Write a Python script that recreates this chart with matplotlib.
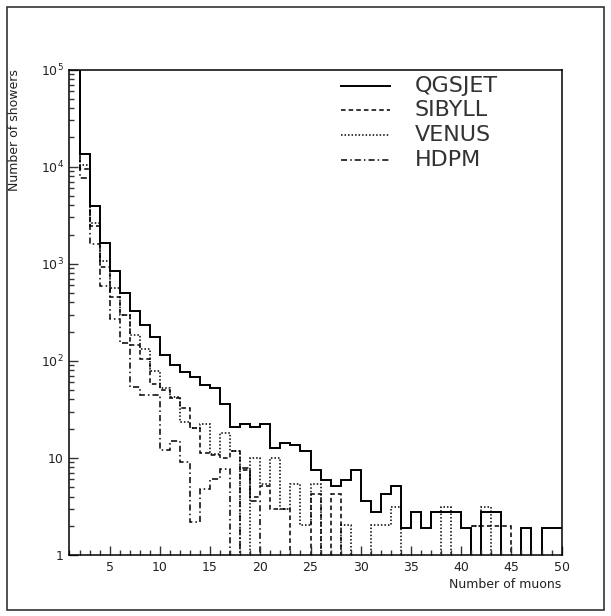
import matplotlib.pyplot as plt
import numpy as np
from matplotlib.patches import Rectangle
from matplotlib.ticker import MultipleLocator, LogLocator, NullFormatter

# bin edges: 1..50, one bin per muon number
edges = np.arange(1, 51)

qgsjet = [1.5e5, 13400, 3900, 1620, 840, 505, 325, 236, 175, 114,
          90, 77, 68, 56, 52, 36, 21, 22.5, 21, 22.5,
          12.7, 14.1, 13.5, 11.8, 7.5, 5.9, 5.2, 5.9, 7.5, 3.6,
          2.75, 4.3, 5.2, 1.9, 2.75, 1.9, 2.75, 2.75, 2.75, 1.9,
          0, 2.75, 2.75, 0, 0, 1.9, 0, 1.9, 1.9]
sibyll = [1.2e5, 9500, 2430, 925, 450, 300, 145, 105, 58, 50,
          41, 33, 20.5, 11.2, 10.8, 10.1, 11.7, 7.5, 4.0, 5.2,
          3.0, 3.0, 0, 0, 4.3, 0, 4.3, 0, 0, 0,
          0, 0, 0, 0, 0, 0, 0, 0, 0, 0,
          2.0, 2.0, 2.0, 2.0, 0, 0, 0, 0, 0]
venus = [1.3e5, 10300, 2650, 1065, 560, 300, 183, 132, 79, 53,
         42, 23.7, 20.5, 22.5, 11, 18.1, 11.7, 0, 9.9, 5.35,
         9.9, 3.0, 5.35, 2.06, 5.35, 0, 0, 2.06, 0, 0,
         2.06, 2.06, 3.1, 0, 0, 0, 0, 3.1, 0, 0,
         2.0, 3.1, 0, 0, 0, 0, 0, 0, 0]
hdpm = [1.1e5, 7700, 1580, 590, 272, 151, 54, 45, 45, 12,
        15, 9.1, 2.2, 4.8, 6.0, 7.7, 0, 7.9, 3.6, 0] + [0] * 29

models = ['QGSJET', 'SIBYLL', 'VENUS', 'HDPM']
styles = ['-', (0, (3, 2)), (0, (1, 1.3)), (0, (4, 2, 1, 2))]
widths = [1.4, 1.1, 1.1, 1.1]

fig = plt.figure(figsize=(6.11, 6.16), dpi=100)
ax = fig.add_axes([0.1137, 0.099, 0.8055, 0.788])

for vals, ls, lw in zip([qgsjet, sibyll, venus, hdpm], styles, widths):
    v = np.asarray(vals, dtype=float)
    v = np.where(v > 0, v, 1e-3)  # empty bins drop to the bottom
    ax.stairs(v, edges, baseline=None, color='black', linestyle=ls, linewidth=lw)

ax.set_yscale('log')
ax.set_xlim(1, 50)
ax.set_ylim(1, 1e5)

ax.set_xticks([5, 10, 15, 20, 25, 30, 35, 40, 45, 50])
ax.xaxis.set_minor_locator(MultipleLocator(1))
ax.set_yticks([1, 10, 1e2, 1e3, 1e4, 1e5],
              ['1', '10', r'$\mathregular{10^{2}}$', r'$\mathregular{10^{3}}$',
               r'$\mathregular{10^{4}}$', r'$\mathregular{10^{5}}$'])
ax.yaxis.set_minor_locator(LogLocator(base=10, subs=np.arange(2, 10)))
ax.yaxis.set_minor_formatter(NullFormatter())

ax.tick_params(which='both', direction='in', top=False, right=False,
               labelsize=9, pad=4, color='#333333', labelcolor='#222222')
ax.tick_params(which='major', length=6.5, width=1)
ax.tick_params(which='minor', length=3.6, width=1)
for s in ax.spines.values():
    s.set_linewidth(1.1)

ax.set_xlabel('Number of muons', fontsize=9, loc='right', color='#222222')
ax.xaxis.set_label_coords(1.0, -0.048)
ax.set_ylabel('Number of showers', fontsize=9, loc='top', color='#222222')
ax.yaxis.set_label_coords(-0.099, 1.0)

# legend drawn by hand in axes fraction
rows = [0.966, 0.916, 0.8655, 0.813]
for name, ls, lw, y in zip(models, styles, widths, rows):
    ax.plot([0.552, 0.651], [y, y], transform=ax.transAxes, color='black',
            linestyle=ls, linewidth=lw)
    ax.text(0.702, y, name, transform=ax.transAxes, fontsize=16,
            va='center', ha='left', color='#333333')

fig.patches.append(Rectangle((7 / 611, 6 / 616), 597 / 611, 603 / 616,
                             transform=fig.transFigure, fill=False,
                             linewidth=1.2, edgecolor='#333333'))

fig.savefig('out.png', dpi=100)
